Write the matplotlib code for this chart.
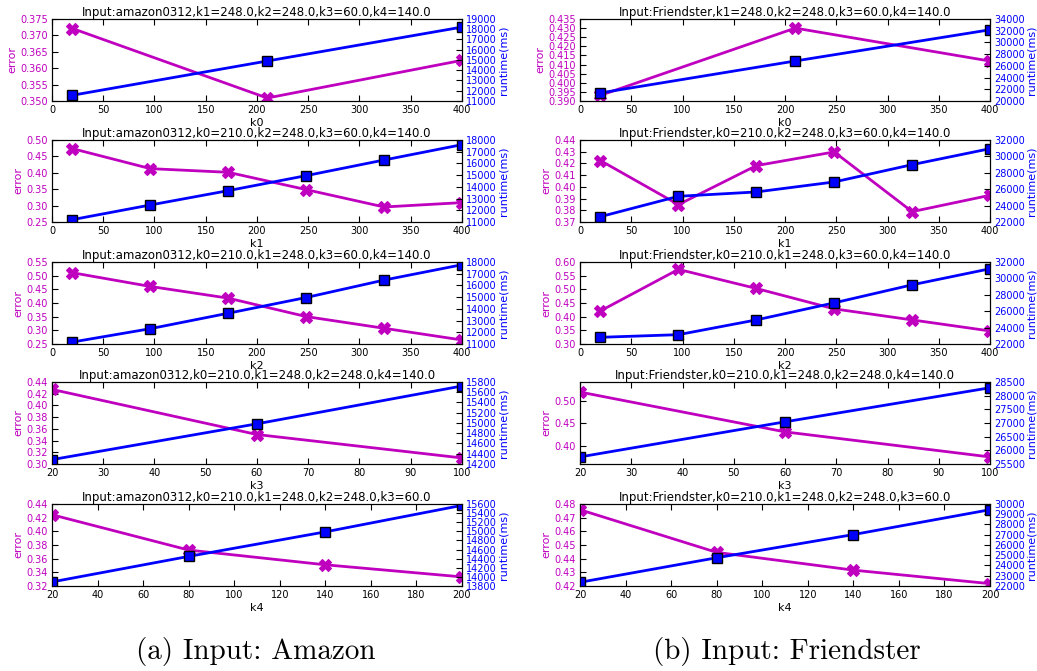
import numpy as np
import matplotlib
matplotlib.use("Agg")
import matplotlib.pyplot as plt
from matplotlib.ticker import FormatStrFormatter

# ---- parameter sweeps (x values) ----
k_wide = [20, 96, 172, 248, 324, 400]
k0_vals = [20, 210, 400]
k3_vals = [20, 60, 100]
k4_vals = [20, 80, 140, 200]

# ---- amazon0312 ----
amz_k0_err = [0.3721, 0.3509, 0.3624]
amz_k0_rt = [11560, 14900, 18210]
amz_k1_err = [0.4736, 0.4126, 0.4014, 0.3486, 0.2957, 0.3090]
amz_k1_rt = [11200, 12450, 13675, 14955, 16290, 17600]
amz_k2_err = [0.5108, 0.4606, 0.4178, 0.3504, 0.3076, 0.2647]
amz_k2_rt = [11170, 12310, 13630, 14970, 16460, 17770]
amz_k3_err = [0.4274, 0.3503, 0.3103]
amz_k3_rt = [14285, 14984, 15722]
amz_k4_err = [0.4243, 0.3726, 0.3510, 0.3333]
amz_k4_rt = [13889, 14449, 14988, 15570]

# ---- Friendster ----
fr_k0_err = [0.3931, 0.4300, 0.4119]
fr_k0_rt = [21380, 26830, 32160]
fr_k1_err = [0.4224, 0.3848, 0.4181, 0.4298, 0.3788, 0.3928]
fr_k1_rt = [22650, 25130, 25660, 26880, 28990, 30940]
fr_k2_err = [0.4212, 0.5731, 0.5033, 0.4286, 0.3882, 0.3478]
fr_k2_rt = [22820, 23140, 24940, 27020, 29220, 31180]
fr_k3_err = [0.5201, 0.4313, 0.3754]
fr_k3_rt = [25759, 27043, 28290]
fr_k4_err = [0.4758, 0.4446, 0.4316, 0.4217]
fr_k4_rt = [22361, 24754, 27016, 29443]

MAG = (0.75, 0.0, 0.75)
BLU = (0.0, 0.0, 1.0)

fig = plt.figure(figsize=(10.37, 6.71), dpi=100)

col_left = [0.0501, 0.5593]
row_bottom = [0.8495, 0.6692, 0.4873, 0.3085, 0.1267]
ax_w, ax_h = 0.3954, 0.1222


def panel(col, row, title, xlabel, xs, err, rt, xlim, xticks,
          elim, eticks, efmt, rlim, rticks):
    ax = fig.add_axes([col_left[col], row_bottom[row], ax_w, ax_h])
    ax.plot(xs, err, color=MAG, lw=2, marker='X', ms=8.5,
            mfc=MAG, mec=MAG, mew=0.8)
    ax.set_xlim(*xlim)
    ax.set_xticks(xticks)
    ax.set_ylim(*elim)
    ax.set_yticks(eticks)
    ax.yaxis.set_major_formatter(FormatStrFormatter(efmt))
    ax.set_title(title, fontsize=8.5, pad=2)
    ax.set_xlabel(xlabel, fontsize=8, labelpad=2)
    ax.set_ylabel('error', color=MAG, fontsize=8, labelpad=2)
    ax.tick_params(axis='both', direction='in', labelsize=7, length=4,
                   pad=3, top=True)
    ax.tick_params(axis='y', labelcolor=MAG)

    ax2 = ax.twinx()
    ax2.plot(xs, rt, color=BLU, lw=2, marker='s', ms=6.5,
             mfc=BLU, mec='black', mew=1)
    ax2.set_xlim(*xlim)
    ax2.set_ylim(*rlim)
    ax2.set_yticks(rticks)
    ax2.set_ylabel('runtime(ms)', color=BLU, fontsize=8, labelpad=1)
    ax2.tick_params(axis='y', direction='in', labelsize=7, length=4,
                    pad=3, labelcolor=BLU)
    return ax, ax2


x400 = np.arange(0, 401, 50)

# left column: amazon0312
panel(0, 0, 'Input:amazon0312,k1=248.0,k2=248.0,k3=60.0,k4=140.0', 'k0',
      k0_vals, amz_k0_err, amz_k0_rt, (0, 400), x400,
      (0.350, 0.375), np.arange(0.350, 0.3751, 0.005), '%.3f',
      (11000, 19000), np.arange(11000, 19001, 1000))
panel(0, 1, 'Input:amazon0312,k0=210.0,k2=248.0,k3=60.0,k4=140.0', 'k1',
      k_wide, amz_k1_err, amz_k1_rt, (0, 400), x400,
      (0.25, 0.50), np.arange(0.25, 0.501, 0.05), '%.2f',
      (11000, 18000), np.arange(11000, 18001, 1000))
panel(0, 2, 'Input:amazon0312,k0=210.0,k1=248.0,k3=60.0,k4=140.0', 'k2',
      k_wide, amz_k2_err, amz_k2_rt, (0, 400), x400,
      (0.25, 0.55), np.arange(0.25, 0.551, 0.05), '%.2f',
      (11000, 18000), np.arange(11000, 18001, 1000))
panel(0, 3, 'Input:amazon0312,k0=210.0,k1=248.0,k2=248.0,k4=140.0', 'k3',
      k3_vals, amz_k3_err, amz_k3_rt, (20, 100), np.arange(20, 101, 10),
      (0.30, 0.44), np.arange(0.30, 0.441, 0.02), '%.2f',
      (14200, 15800), np.arange(14200, 15801, 200))
panel(0, 4, 'Input:amazon0312,k0=210.0,k1=248.0,k2=248.0,k3=60.0', 'k4',
      k4_vals, amz_k4_err, amz_k4_rt, (20, 200), np.arange(20, 201, 20),
      (0.32, 0.44), np.arange(0.32, 0.441, 0.02), '%.2f',
      (13800, 15600), np.arange(13800, 15601, 200))

# right column: Friendster
panel(1, 0, 'Input:Friendster,k1=248.0,k2=248.0,k3=60.0,k4=140.0', 'k0',
      k0_vals, fr_k0_err, fr_k0_rt, (0, 400), x400,
      (0.390, 0.435), np.arange(0.390, 0.4351, 0.005), '%.3f',
      (20000, 34000), np.arange(20000, 34001, 2000))
panel(1, 1, 'Input:Friendster,k0=210.0,k2=248.0,k3=60.0,k4=140.0', 'k1',
      k_wide, fr_k1_err, fr_k1_rt, (0, 400), x400,
      (0.37, 0.44), np.arange(0.37, 0.4401, 0.01), '%.2f',
      (22000, 32000), np.arange(22000, 32001, 2000))
panel(1, 2, 'Input:Friendster,k0=210.0,k1=248.0,k3=60.0,k4=140.0', 'k2',
      k_wide, fr_k2_err, fr_k2_rt, (0, 400), x400,
      (0.30, 0.60), np.arange(0.30, 0.601, 0.05), '%.2f',
      (22000, 32000), np.arange(22000, 32001, 2000))
panel(1, 3, 'Input:Friendster,k0=210.0,k1=248.0,k2=248.0,k4=140.0', 'k3',
      k3_vals, fr_k3_err, fr_k3_rt, (20, 100), np.arange(20, 101, 10),
      (0.3597, 0.5425), [0.40, 0.45, 0.50], '%.2f',
      (25500, 28500), np.arange(25500, 28501, 500))
panel(1, 4, 'Input:Friendster,k0=210.0,k1=248.0,k2=248.0,k3=60.0', 'k4',
      k4_vals, fr_k4_err, fr_k4_rt, (20, 200), np.arange(20, 201, 20),
      (0.42, 0.48), np.arange(0.42, 0.4801, 0.01), '%.2f',
      (22000, 30000), np.arange(22000, 30001, 1000))

# sub-figure captions
fig.text(0.2466, 0.0180, '(a) Input: Amazon', fontsize=21, family='cmr10',
         ha='center', va='baseline')
fig.text(0.7585, 0.0180, '(b) Input: Friendster', fontsize=21,
         family='cmr10', ha='center', va='baseline')

fig.savefig('out.png', dpi=100)
